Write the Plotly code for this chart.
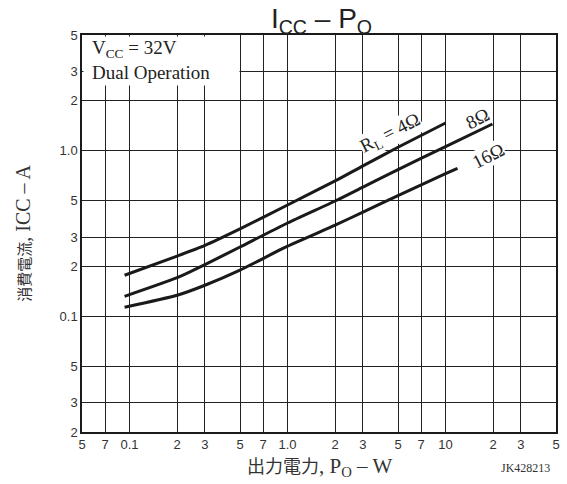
import math
import plotly.graph_objects as go

# --------------------------
# Data
# --------------------------

po_4ohm = [0.093, 0.2, 0.3, 0.5, 1.0, 2.0, 3.0, 5.0, 10.0]
icc_4ohm = [0.177, 0.231, 0.268, 0.337, 0.47, 0.657, 0.81, 1.05, 1.47]

po_8ohm = [0.093, 0.2, 0.3, 0.5, 1.0, 2.0, 3.0, 5.0, 10.0, 19.8]
icc_8ohm = [0.132, 0.171, 0.205, 0.262, 0.366, 0.497, 0.603, 0.769, 1.06, 1.45]

po_16ohm = [0.093, 0.2, 0.3, 0.5, 1.0, 2.0, 3.0, 5.0, 10.0, 11.9]
icc_16ohm = [0.1135, 0.134, 0.154, 0.19, 0.265, 0.355, 0.426, 0.535, 0.727, 0.783]

x_tickvals = [0.05, 0.07, 0.1, 0.2, 0.3, 0.5, 0.7, 1, 2, 3, 5, 7, 10, 20, 30, 50]
x_ticktext = ["5", "7", "0.1", "2", "3", "5", "7", "1.0", "2", "3", "5", "7", "10", "2", "3", "5"]

y_tickvals = [0.02, 0.03, 0.05, 0.1, 0.2, 0.3, 0.5, 1, 2, 3, 5]
y_ticktext = ["2", "3", "5", "0.1", "2", "3", "5", "1.0", "2", "3", "5"]

SERIF = "Liberation Serif, Noto Sans CJK JP, serif"
SANS = "Liberation Sans, Arial, sans-serif"

fig = go.Figure()

# --------------------------
# Curves
# --------------------------

for po, icc in [(po_4ohm, icc_4ohm), (po_8ohm, icc_8ohm), (po_16ohm, icc_16ohm)]:
    fig.add_trace(
        go.Scatter(
            x=po,
            y=icc,
            mode="lines",
            line=dict(color="#1a1a1a", width=3, shape="spline", smoothing=0.6),
            showlegend=False,
            hoverinfo="skip"
        )
    )

# --------------------------
# Labels
# --------------------------

# log axes: annotation positions are given in log10 units
curve_labels = [
    ("R<sub>L</sub> = 4Ω", 4.45, 1.27, "white"),
    ("8Ω", 16.0, 1.56, "rgba(0,0,0,0)"),
    ("16Ω", 18.8, 0.93, "white"),
]
for text, lx, ly, bg in curve_labels:
    fig.add_annotation(
        x=math.log10(lx), y=math.log10(ly), xref="x", yref="y",
        text=text, showarrow=False, textangle=-27,
        font=dict(family=SERIF, size=19, color="#222"),
        bgcolor=bg, borderpad=0
    )

# white box behind the conditions text (hides the grid there)
fig.add_annotation(
    x=0, y=1, xref="paper", yref="paper",
    xanchor="left", yanchor="top", xshift=1, yshift=-1,
    text=" ", showarrow=False,
    width=155, height=48, borderpad=0, bgcolor="white"
)

fig.add_annotation(
    x=0.016, y=1.0, xref="paper", yref="paper",
    xanchor="left", yanchor="top", align="left",
    text="V<sub>CC</sub> = 32V<br>Dual Operation",
    showarrow=False,
    font=dict(family=SERIF, size=19, color="#222")
)

fig.add_annotation(
    x=0.5, y=-0.088, xref="paper", yref="paper",
    xanchor="center", yanchor="middle",
    text="出力電力<span style='font-size:21px'>, P<sub>O</sub> – W</span>",
    showarrow=False,
    font=dict(family=SERIF, size=18, color="#333")
)

fig.add_annotation(
    x=-0.126, y=0.5, xref="paper", yref="paper",
    xanchor="center", yanchor="middle",
    text="消費電流<span style='font-size:20px'>, ICC – A</span>",
    showarrow=False, textangle=-90,
    font=dict(family=SERIF, size=15, color="#333")
)

fig.add_annotation(
    x=0.935, y=-0.09, xref="paper", yref="paper",
    xanchor="center", yanchor="middle",
    text="JK428213", showarrow=False,
    font=dict(family=SERIF, size=12, color="#333")
)

# --------------------------
# Layout
# --------------------------

axis_style = dict(
    type="log",
    showgrid=True,
    gridcolor="#222222",
    gridwidth=1,
    showline=True,
    linecolor="#1a1a1a",
    linewidth=1.5,
    mirror=True,
    ticks="",
    zeroline=False,
    tickmode="array",
    tickfont=dict(family=SANS, size=13, color="#333")
)

fig.update_layout(
    width=567,
    height=484,
    margin=dict(l=82, r=7, t=35, b=52),
    paper_bgcolor="white",
    plot_bgcolor="white",
    title=dict(
        text="I<sub>CC</sub> – P<sub>O</sub>",
        x=0.567, xanchor="center",
        y=0.962, yanchor="middle",
        font=dict(family=SANS, size=28, color="#222")
    ),
    xaxis=dict(
        axis_style,
        range=[-1.30103, 1.69897],
        tickvals=x_tickvals,
        ticktext=x_ticktext
    ),
    yaxis=dict(
        axis_style,
        range=[-1.69897, 0.69897],
        tickvals=y_tickvals,
        ticktext=y_ticktext
    )
)

fig.write_html(
    "out.html",
    config={"displayModeBar": False},
    post_script="document.body.style.margin='0';"
)
